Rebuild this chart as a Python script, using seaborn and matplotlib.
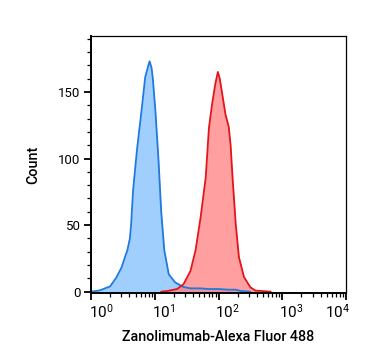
import numpy as np
import pandas as pd
import seaborn as sns
import matplotlib
matplotlib.use('Agg')
import matplotlib.pyplot as plt
from matplotlib.ticker import LogLocator, MultipleLocator, LogFormatterSciNotation, NullFormatter
from matplotlib.transforms import ScaledTranslation

# histogram traces, x in log10 decades of fluorescence, y in counts
isotype_log = [0.00, 0.08, 0.14, 0.22, 0.30, 0.40, 0.48, 0.54, 0.57, 0.61, 0.63, 0.66,
               0.72, 0.80, 0.85, 0.90, 0.92, 0.95, 0.97, 1.01, 1.06, 1.10, 1.15, 1.22,
               1.32, 1.45, 1.56, 1.70, 1.85, 2.00, 2.15, 2.27, 2.35, 2.50]
isotype_count = [0, 0.5, 1, 2.5, 4, 10.8, 18.3, 27, 31, 40, 51, 76,
                 106, 139, 161, 170, 173, 168, 160, 136, 98, 61, 31, 13,
                 7, 3.5, 2.5, 2.5, 2, 2, 1.5, 1.5, 0.5, 0]

stained_log = [1.10, 1.20, 1.35, 1.45, 1.56, 1.64, 1.72, 1.80, 1.85, 1.90, 1.95, 1.99,
               2.02, 2.06, 2.11, 2.16, 2.19, 2.22, 2.27, 2.32, 2.40, 2.50, 2.58, 2.82]
stained_count = [0, 0.5, 2, 5.5, 15.5, 31, 56, 86, 123, 141, 156, 165,
                 160, 148, 133, 124, 110, 86, 51, 26, 11, 3.3, 0.8, 0]

y_ticks = [0, 50, 100, 150]
x_ticks = [1, 10, 100, 1000, 10000]

sns.set_style('ticks')
plt.rcParams['font.family'] = ['Roboto', 'DejaVu Sans']
plt.rcParams['mathtext.fontset'] = 'custom'
plt.rcParams['mathtext.rm'] = 'Roboto'
plt.rcParams['text.color'] = 'black'
plt.rcParams['axes.labelcolor'] = 'black'
plt.rcParams['xtick.color'] = 'black'
plt.rcParams['ytick.color'] = 'black'

blue = pd.DataFrame({'x': 10 ** np.array(isotype_log), 'y': isotype_count})
red = pd.DataFrame({'x': 10 ** np.array(stained_log), 'y': stained_count})

fig = plt.figure(figsize=(3.67, 3.64), dpi=100)
ax = fig.add_axes([91 / 367, 1 - 293 / 364, 255 / 367, 257 / 364])

# blue first, red fill over it so the blue tail turns purple
ax.fill_between(blue['x'], blue['y'], color='#96c9fd', alpha=0.9, lw=0)
sns.lineplot(data=blue, x='x', y='y', color='#1f7ae0', lw=1.3, ax=ax, sort=False)
ax.fill_between(red['x'], red['y'], color='#ff7f7f', alpha=0.75, lw=0)
sns.lineplot(data=red, x='x', y='y', color='#e3141b', lw=1.3, ax=ax, sort=False)

ax.set_xscale('log')
ax.set_xlim(1, 1e4)
ax.set_ylim(-1, 192)
ax.set_xticks(x_ticks)
ax.xaxis.set_major_formatter(LogFormatterSciNotation())
ax.xaxis.set_minor_locator(LogLocator(base=10, subs=np.arange(2, 10)))
ax.xaxis.set_minor_formatter(NullFormatter())
ax.set_yticks(y_ticks)
ax.yaxis.set_minor_locator(MultipleLocator(10))

for side in ['left', 'bottom']:
    ax.spines[side].set_linewidth(1.4)
    ax.spines[side].set_color('black')
for side in ['top', 'right']:
    ax.spines[side].set_linewidth(0.9)
    ax.spines[side].set_color('black')

ax.tick_params(which='major', length=5, width=1.3, pad=2.5, color='black', labelcolor='black')
ax.tick_params(axis='y', which='major', labelsize=9.5)
ax.tick_params(axis='x', which='major', labelsize=11, pad=2)
ax.tick_params(which='minor', length=2.8, width=0.9, color='black')

ax.set_xlabel('Zanolimumab-Alexa Fluor 488', fontsize=10.3, fontweight='medium', labelpad=7, color='black')
ax.set_ylabel('Count', fontsize=10.3, fontweight='medium', labelpad=13, color='black')

fig.canvas.draw()
shifts = [10, 8.5, 9, 8.5, -8]
for lab, dx in zip(ax.xaxis.get_major_ticks(), shifts):
    lab.label1.set_transform(lab.label1.get_transform() + ScaledTranslation(dx / 100, 0, fig.dpi_scale_trans))

fig.savefig('out.png', dpi=100)
